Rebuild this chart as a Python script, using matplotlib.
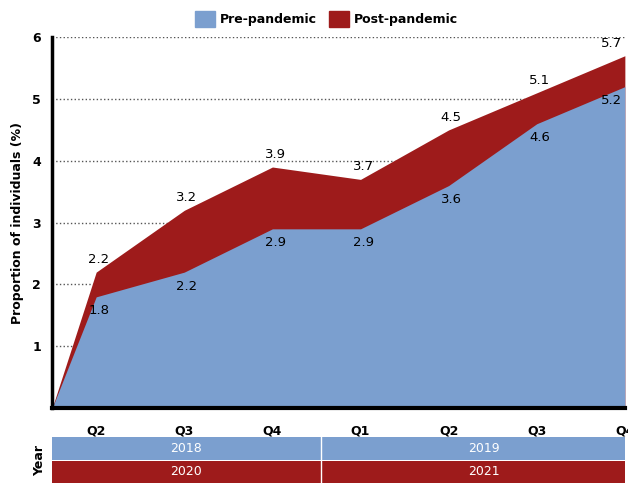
import matplotlib.pyplot as plt
import numpy as np

# data
quarters = ['Q2', 'Q3', 'Q4', 'Q1', 'Q2', 'Q3', 'Q4']
pre = [1.8, 2.2, 2.9, 2.9, 3.6, 4.6, 5.2]
post = [2.2, 3.2, 3.9, 3.7, 4.5, 5.1, 5.7]
years_pre = ['2018', '2019']
years_post = ['2020', '2021']

blue = '#7b9fcf'
red = '#9e1b1b'

x = np.arange(len(quarters))
xs = np.concatenate([[-0.5], x])
pre_s = np.concatenate([[0], pre])
post_s = np.concatenate([[0], post])

fig = plt.figure(figsize=(6.28, 4.83), dpi=100)
ax = fig.add_axes([0.083, 0.155, 0.912, 0.768])

ax.fill_between(xs, 0, post_s, color=red, linewidth=0, zorder=2)
ax.fill_between(xs, 0, pre_s, color=blue, linewidth=0, zorder=3)

for i in range(len(x)):
    dx = -0.15 if i == len(x) - 1 else 0.03
    ax.annotate(f'{post[i]}', (x[i] + dx, post[i]), xytext=(0, 9), textcoords='offset points',
                ha='center', va='center', fontsize=9.5, zorder=5)
    ax.annotate(f'{pre[i]}', (x[i] + dx, pre[i]), xytext=(0, -10), textcoords='offset points',
                ha='center', va='center', fontsize=9.5, zorder=5)

ax.set_xlim(-0.5, 6.0)
ax.set_ylim(0, 6)
ax.set_yticks([1, 2, 3, 4, 5, 6])
ax.set_yticklabels(['1', '2', '3', '4', '5', '6'], fontweight='bold', fontsize=9)
ax.set_xticks(x)
ax.set_xticklabels(quarters, fontweight='bold', fontsize=9)
ax.tick_params(axis='both', length=0, pad=8)
ax.tick_params(axis='x', pad=12)
ax.grid(axis='y', linestyle=':', color='#555555', linewidth=1, zorder=1)
ax.set_axisbelow(True)
for s in ['top', 'right']:
    ax.spines[s].set_visible(False)
ax.spines['left'].set_linewidth(2.5)
ax.spines['bottom'].set_linewidth(3)
ax.spines['left'].set_zorder(6)
ax.spines['bottom'].set_zorder(6)
ax.set_ylabel('Proportion of individuals (%)', fontweight='bold', fontsize=9, labelpad=6)

# year table under the axis
tab = fig.add_axes([0.083, 0.0, 0.912, 0.095])
tab.set_xlim(-0.5, 6.0)
tab.set_ylim(0, 2)
tab.axhspan(1.02, 2, color=blue, linewidth=0)
tab.axhspan(0, 0.98, color=red, linewidth=0)
tab.axvline(2.55, color='white', linewidth=1)
tab.text(1.02, 1.5, years_pre[0], color='white', ha='center', va='center', fontsize=9)
tab.text(4.4, 1.5, years_pre[1], color='white', ha='center', va='center', fontsize=9)
tab.text(1.02, 0.5, years_post[0], color='white', ha='center', va='center', fontsize=9)
tab.text(4.4, 0.5, years_post[1], color='white', ha='center', va='center', fontsize=9)
tab.axis('off')
fig.text(0.063, 0.047, 'Year', rotation=90, ha='center', va='center', fontweight='bold', fontsize=9)

handles = [plt.Rectangle((0, 0), 1, 1, color=blue), plt.Rectangle((0, 0), 1, 1, color=red)]
fig.legend(handles, ['Pre-pandemic', 'Post-pandemic'], loc='upper center', bbox_to_anchor=(0.52, 1.0),
           ncol=2, frameon=False, prop={'weight': 'bold', 'size': 9}, handlelength=1.6, handleheight=1.6,
           columnspacing=1.0, handletextpad=0.4)

fig.savefig('out.png', dpi=100)
